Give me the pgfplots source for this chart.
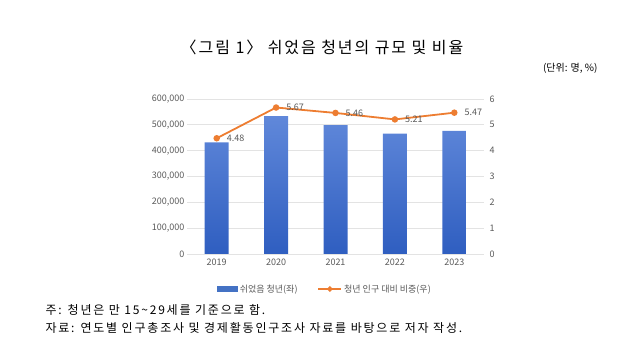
\documentclass[border=0pt]{standalone}
\usepackage{fontspec}
\setmainfont{Noto Sans CJK KR}
\usepackage{pgfplots}
\pgfplotsset{compat=1.18}
\definecolor{barTop}{HTML}{6088DA}
\definecolor{barBot}{HTML}{2F5EC0}
\definecolor{barBlue}{HTML}{4472C4}
\definecolor{lineOr}{HTML}{ED7D31}
\definecolor{tickgray}{HTML}{595959}
\definecolor{gridgray}{HTML}{E3E3E3}
\begin{document}
\begin{tikzpicture}[x=1pt,y=1pt]
\useasboundingbox (0,0) rectangle (640,355);
\node[font=\fontsize{16}{19}\selectfont\addfontfeatures{LetterSpace=12}] at (322,308) {〈그림 1〉 쉬었음 청년의 규모 및 비율};
\node[anchor=east,font=\fontsize{10}{12}\selectfont] at (601,287) {(단위: 명, \%)};
\node[anchor=west,font=\fontsize{12}{14}\selectfont\addfontfeatures{LetterSpace=15}] at (42,45) {주: 청년은 만 15\textasciitilde29세를 기준으로 함.};
\node[anchor=west,font=\fontsize{12}{14}\selectfont\addfontfeatures{LetterSpace=15}] at (42,27) {자료: 연도별 인구총조사 및 경제활동인구조사 자료를 바탕으로 저자 작성.};
\begin{axis}[
  at={(187pt,101pt)}, anchor=south west, scale only axis,
  width=297pt, height=155pt,
  xmin=-0.5, xmax=4.5, ymin=0, ymax=600000,
  xtick={0,1,2,3,4}, xticklabels={2019,2020,2021,2022,2023},
  ytick={0,100000,200000,300000,400000,500000,600000},
  scaled y ticks=false,
  yticklabel style={xshift=1pt, /pgf/number format/fixed, /pgf/number format/1000 sep={,}},
  /pgf/number format/assume math mode=true,
  ymajorgrids, grid style={draw=gridgray, line width=0.7pt},
  axis line style={draw=none}, major tick length=0pt,
  tick label style={font=\fontsize{9}{10}\selectfont, text=tickgray},
  xticklabel style={yshift=-1pt},
]
\addplot[ybar, bar width=24pt, draw=none, top color=barTop, bottom color=barBot]
  coordinates {(0,432000) (1,534000) (2,499000) (3,466000) (4,477000)};
\end{axis}
\begin{axis}[
  at={(187pt,101pt)}, anchor=south west, scale only axis,
  width=297pt, height=155pt,
  xmin=-0.5, xmax=4.5, ymin=0, ymax=6,
  axis x line=none, axis y line*=right,
  ytick={0,1,2,3,4,5,6},
  /pgf/number format/assume math mode=true,
  axis line style={draw=none}, major tick length=0pt,
  tick label style={font=\fontsize{9}{10}\selectfont, text=tickgray},
  yticklabel style={xshift=2pt},
  legend style={at={(0.465,-0.17)}, anchor=north, draw=none, fill=none,
    legend columns=2, font=\fontsize{9}{10}\selectfont, text=tickgray,
    /tikz/every even column/.append style={column sep=18pt}},
  legend cell align=left,
]
\addlegendimage{legend image code/.code={\fill[barBlue] (0pt,-2.5pt) rectangle (20pt,2.5pt);}}
\addlegendentry{쉬었음 청년(좌)}
\addplot[lineOr, line width=1.8pt, mark=*, mark size=2.3pt,
  legend image code/.code={\draw[lineOr,line width=1.6pt] (0pt,0pt)--(23pt,0pt); \fill[lineOr] (11.5pt,0pt) circle (1.8pt);},
  nodes near coords={\pgfmathprintnumber[fixed,fixed zerofill,precision=2]{\pgfplotspointmeta}},
  nodes near coords align=horizontal,
  every node near coord/.append style={font=\fontsize{9}{10}\selectfont, text=tickgray, xshift=6pt}]
  coordinates {(0,4.48) (1,5.67) (2,5.46) (3,5.21) (4,5.47)};
\addlegendentry{청년 인구 대비 비중(우)}
\end{axis}
\end{tikzpicture}
\end{document}
